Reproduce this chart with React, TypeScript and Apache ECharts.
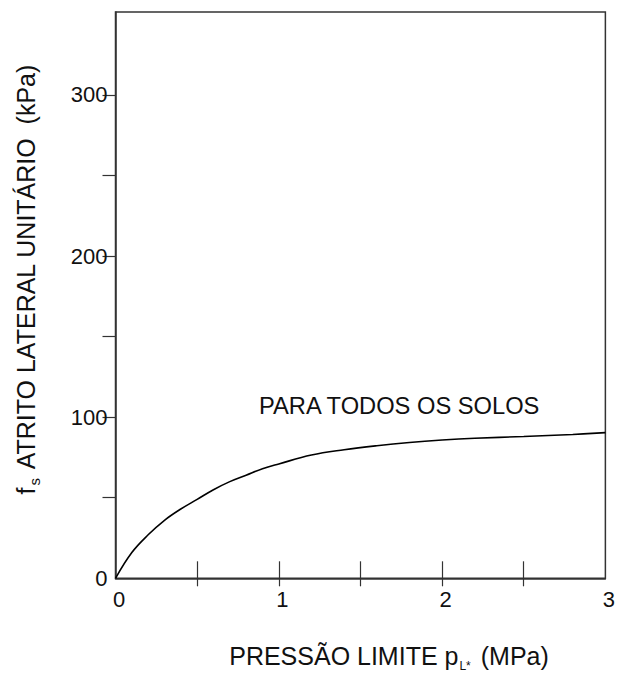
import React, { useEffect, useRef } from "react";
import * as echarts from "echarts";

const pressureMPa = [0, 0.1, 0.2, 0.3, 0.4, 0.5, 0.6, 0.7, 0.8, 0.9, 1.0, 1.2, 1.4, 1.6, 1.8, 2.0, 2.2, 2.5, 2.8, 3.0];
const frictionKPa = [0, 16, 27, 36, 43, 49, 55, 60, 64, 68, 71, 76.5, 79.8, 82.3, 84.3, 85.8, 86.9, 88, 89.3, 90.4];
const xLabelValues = [0, 1, 2, 3];
const xTickValues = [0.5, 1, 1.5, 2, 2.5];
const yLabelValues = [0, 100, 200, 300];
const yTickValues = [50, 100, 150, 200, 250, 300];
const curveLabel = "PARA TODOS OS SOLOS";

const FONT = "Liberation Sans, Arial, sans-serif";
const AXIS_COLOR = "#333";
const TEXT_COLOR = "#111";

export default function App() {
  const ref = useRef<HTMLDivElement>(null);
  useEffect(() => {
    if (!ref.current) return;
    const chart = echarts.init(ref.current, undefined, { renderer: "svg" });
    const data = pressureMPa.map((x, i) => [x, frictionKPa[i]]);
    chart.setOption({
      animation: false,
      backgroundColor: "#fff",
      grid: {
        left: 115.5,
        top: 12,
        right: 5.5,
        bottom: 94.7,
        show: true,
        borderColor: AXIS_COLOR,
        borderWidth: 1.5,
        backgroundColor: "transparent",
      },
      xAxis: [
        {
          type: "value",
          min: 0,
          max: 3,
          interval: 1,
          splitLine: { show: false },
          axisLine: { show: true, lineStyle: { color: AXIS_COLOR, width: 1.5 } },
          axisTick: {
            show: true,
            inside: true,
            length: 17,
            customValues: xTickValues,
            lineStyle: { color: AXIS_COLOR, width: 1.2 },
          },
          axisLabel: {
            customValues: xLabelValues,
            fontSize: 22,
            fontFamily: FONT,
            color: TEXT_COLOR,
            margin: 10,
            padding: [0, 0, 0, 7],
          },
        },
        {
          type: "value",
          min: 0,
          max: 3,
          interval: 1,
          position: "bottom",
          splitLine: { show: false },
          axisLine: { show: false },
          axisTick: {
            show: true,
            inside: false,
            length: 8,
            customValues: xTickValues,
            lineStyle: { color: AXIS_COLOR, width: 1.2 },
          },
          axisLabel: { show: false },
        },
      ],
      yAxis: {
        type: "value",
        min: 0,
        max: 351.5,
        splitLine: { show: false },
        axisLine: { show: true, lineStyle: { color: AXIS_COLOR, width: 1.5 } },
        axisTick: {
          show: true,
          inside: false,
          length: 13,
          customValues: yTickValues,
          lineStyle: { color: AXIS_COLOR, width: 1.2 },
        },
        axisLabel: {
          customValues: yLabelValues,
          fontSize: 22,
          fontFamily: FONT,
          color: TEXT_COLOR,
          margin: 8,
        },
      },
      series: [
        {
          type: "line",
          xAxisIndex: 0,
          yAxisIndex: 0,
          data,
          smooth: 0.4,
          showSymbol: false,
          symbol: "none",
          lineStyle: { color: "#000", width: 1.6 },
        },
      ],
      graphic: [
        {
          type: "text",
          x: 259,
          y: 406,
          style: {
            text: curveLabel,
            fontSize: 23.7,
            fontFamily: FONT,
            fill: TEXT_COLOR,
            align: "left",
            verticalAlign: "middle",
          },
        },
        {
          type: "text",
          x: 26,
          y: 279,
          rotation: Math.PI / 2,
          style: {
            text: "{m|f}{s|s}{m| ATRITO LATERAL UNITÁRIO  (kPa)}",
            fontSize: 25,
            fontFamily: FONT,
            fill: TEXT_COLOR,
            align: "center",
            verticalAlign: "middle",
            rich: {
              m: { fontSize: 25, fontFamily: FONT, fill: TEXT_COLOR, lineHeight: 32 },
              s: {
                fontSize: 15,
                fontFamily: FONT,
                fill: TEXT_COLOR,
                lineHeight: 14,
                verticalAlign: "bottom",
                padding: [0, 2, 0, 2],
              },
            },
          },
        },
        {
          type: "text",
          x: 389,
          y: 656,
          style: {
            text: "{m|PRESSÃO LIMITE p}{s|L*}{m| (MPa)}",
            fontSize: 25,
            fontFamily: FONT,
            fill: TEXT_COLOR,
            align: "center",
            verticalAlign: "middle",
            rich: {
              m: { fontSize: 25, fontFamily: FONT, fill: TEXT_COLOR, lineHeight: 32 },
              s: {
                fontSize: 12,
                fontFamily: FONT,
                fill: TEXT_COLOR,
                lineHeight: 12,
                verticalAlign: "bottom",
                padding: [0, 3, 0, 1],
              },
            },
          },
        },
      ],
    });
    return () => chart.dispose();
  }, []);
  return (
    <div
      ref={ref}
      style={{ position: "fixed", left: 0, top: 0, width: 618, height: 673, background: "#fff" }}
    />
  );
}
